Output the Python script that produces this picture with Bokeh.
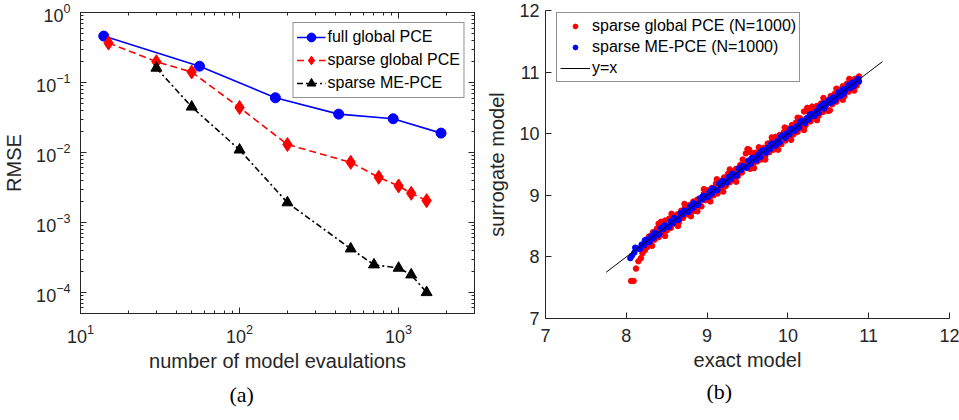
from bokeh.plotting import figure
from bokeh.models import (LogAxis, Legend, LegendItem, Title, Range1d, FixedTicker,
                          CustomJSTickFormatter)
from bokeh.embed import file_html
from bokeh.resources import INLINE

# ---------------- data: panel (a) ----------------
full_x = [14, 56, 168, 420, 924, 1848]
full_y = [0.46, 0.171, 0.0604, 0.0353, 0.0303, 0.0189]
sg_x = [15, 30, 50, 100, 200, 500, 750, 1000, 1200, 1500]
sg_y = [0.366, 0.198, 0.141, 0.0439, 0.0130, 0.00722, 0.00442, 0.00332, 0.00261, 0.00205]
me_x = [30, 50, 100, 200, 500, 700, 1000, 1200, 1500]
me_y = [0.161, 0.0448, 0.0109, 0.00192, 0.000421, 0.000249, 0.000223, 0.000179, 0.0001]

# ---------------- data: panel (b) ----------------
red_x = [8.06, 8.09, 8.12, 8.15, 8.18, 8.20, 8.23, 8.26, 8.28, 8.30, 8.33, 8.35, 8.38, 8.40,
         8.43, 8.45, 8.48, 8.50, 8.53, 8.55, 8.58, 8.60, 8.63, 8.65, 8.68, 8.70, 8.73, 8.75,
         8.78, 8.80, 8.83, 8.85, 8.88, 8.91, 8.93, 8.96, 8.98, 9.01, 9.03, 9.06, 9.08, 9.11,
         9.13, 9.16, 9.18, 9.21, 9.23, 9.26, 9.28, 9.31, 9.33, 9.36, 9.38, 9.41, 9.43, 9.46,
         9.48, 9.50, 9.52, 9.53, 9.55, 9.57, 9.60, 9.62, 9.65, 9.67, 9.70, 9.72, 9.75, 9.77,
         9.80, 9.82, 9.85, 9.87, 9.90, 9.92, 9.95, 9.97, 10.00, 10.02, 10.05, 10.07, 10.10,
         10.12, 10.15, 10.17, 10.20, 10.22, 10.24, 10.26, 10.28, 10.31, 10.33, 10.36, 10.38,
         10.41, 10.43, 10.46, 10.48, 10.50, 10.53, 10.55, 10.58, 10.60, 10.63, 10.65, 10.68,
         10.70, 10.73, 10.75, 10.78, 10.80, 10.83, 10.85, 10.88, 10.87,
         8.32, 8.40, 8.48, 8.56, 8.64, 8.72, 8.80, 8.88, 8.96, 9.04, 9.12, 9.20, 9.28, 9.36,
         9.44, 9.58, 9.64, 9.72, 9.80, 9.88, 9.96, 10.04, 10.12, 10.20, 10.30, 10.36, 10.44,
         10.52, 10.60, 10.68, 10.76, 10.82]
red_y = [7.61, 7.61, 7.81, 7.93, 7.98, 8.06, 8.11, 8.16, 8.33, 8.21, 8.40, 8.28, 8.46, 8.32,
         8.57, 8.39, 8.59, 8.43, 8.62, 8.47, 8.65, 8.54, 8.69, 8.56, 8.75, 8.63, 8.81, 8.69,
         8.84, 8.72, 8.90, 8.75, 8.93, 8.84, 8.82, 9.02, 8.92, 9.08, 8.96, 9.12, 9.00, 9.19,
         9.03, 9.23, 9.12, 9.29, 9.15, 9.35, 9.21, 9.39, 9.25, 9.43, 9.31, 9.49, 9.37, 9.53,
         9.68, 9.75, 9.74, 9.43, 9.69, 9.49, 9.69, 9.55, 9.73, 9.58, 9.77, 9.64, 9.84, 9.70,
         9.88, 9.74, 9.95, 9.80, 9.98, 9.83, 10.02, 9.89, 10.08, 9.95, 10.14, 9.99, 10.18,
         10.03, 10.25, 10.10, 10.36, 10.14, 10.42, 10.36, 10.20, 10.39, 10.26, 10.45, 10.29,
         10.49, 10.35, 10.53, 10.38, 10.37, 10.61, 10.48, 10.65, 10.52, 10.71, 10.58, 10.77,
         10.61, 10.81, 10.68, 10.85, 10.72, 10.89, 10.78, 10.93, 10.83,
         8.18, 8.54, 8.34, 8.70, 8.50, 8.86, 8.66, 8.74, 9.10, 8.90, 9.26, 9.06, 9.42, 9.22,
         9.58, 9.44, 9.78, 9.58, 9.94, 9.74, 10.10, 9.90, 10.26, 10.06, 10.44, 10.22, 10.58,
         10.38, 10.73, 10.55, 10.89, 10.70]
blue_x = [8.05, 8.07, 8.10, 8.13, 8.16, 8.19, 8.22, 8.25, 8.28, 8.31, 8.34, 8.37, 8.40, 8.43,
          8.46, 8.49, 8.52, 8.55, 8.58, 8.61, 8.64, 8.67, 8.70, 8.73, 8.76, 8.79, 8.82, 8.85,
          8.88, 8.91, 8.94, 8.97, 9.00, 9.03, 9.06, 9.09, 9.12, 9.15, 9.18, 9.21, 9.24, 9.27,
          9.30, 9.33, 9.36, 9.39, 9.42, 9.45, 9.48, 9.51, 9.54, 9.57, 9.60, 9.63, 9.66, 9.69,
          9.72, 9.75, 9.78, 9.81, 9.84, 9.87, 9.90, 9.93, 9.96, 9.99, 10.02, 10.05, 10.08,
          10.11, 10.14, 10.17, 10.20, 10.23, 10.26, 10.29, 10.32, 10.35, 10.38, 10.41, 10.44,
          10.47, 10.50, 10.53, 10.56, 10.59, 10.62, 10.65, 10.68, 10.71, 10.74, 10.77, 10.80,
          10.83, 10.86, 10.88,
          8.11, 8.17, 8.23, 8.29, 8.35, 8.41, 8.47, 8.53, 8.59, 8.65, 8.71, 8.77, 8.83, 8.89,
          8.95, 9.01, 9.07, 9.13, 9.19, 9.25, 9.31, 9.37, 9.43, 9.49, 9.55, 9.61, 9.67, 9.73,
          9.79, 9.85, 9.91, 9.97, 10.03, 10.09, 10.15, 10.21, 10.27, 10.33, 10.39, 10.45,
          10.51, 10.57, 10.63, 10.69, 10.75, 10.81, 10.87]
blue_y = [7.98, 8.02, 8.07, 8.14, 8.13, 8.20, 8.19, 8.28, 8.24, 8.34, 8.31, 8.38, 8.36, 8.47,
          8.45, 8.51, 8.49, 8.58, 8.55, 8.62, 8.60, 8.71, 8.69, 8.75, 8.73, 8.82, 8.79, 8.86,
          8.84, 8.95, 8.93, 8.99, 8.97, 9.06, 9.03, 9.10, 9.08, 9.19, 9.17, 9.23, 9.21, 9.30,
          9.27, 9.34, 9.32, 9.43, 9.41, 9.47, 9.45, 9.56, 9.51, 9.61, 9.57, 9.65, 9.62, 9.73,
          9.71, 9.77, 9.75, 9.84, 9.81, 9.88, 9.86, 9.97, 9.95, 10.01, 9.99, 10.08, 10.05,
          10.12, 10.10, 10.21, 10.19, 10.25, 10.23, 10.32, 10.29, 10.36, 10.34, 10.45, 10.49,
          10.46, 10.52, 10.50, 10.59, 10.56, 10.63, 10.61, 10.72, 10.70, 10.76, 10.74, 10.83,
          10.80, 10.87, 10.85,
          8.15, 8.13, 8.27, 8.25, 8.39, 8.37, 8.51, 8.49, 8.63, 8.61, 8.75, 8.73, 8.87, 8.85,
          8.99, 8.97, 9.11, 9.09, 9.23, 9.21, 9.35, 9.33, 9.47, 9.45, 9.60, 9.57, 9.71, 9.69,
          9.83, 9.81, 9.95, 9.93, 10.07, 10.05, 10.19, 10.17, 10.31, 10.29, 10.43, 10.41,
          10.55, 10.53, 10.67, 10.65, 10.79, 10.77, 10.89]
diag_x = [7.75, 11.17]
diag_y = [7.75, 11.17]

FONT = "Liberation Sans"
SERIF = "Liberation Serif"
AX = "#262626"


def style_axis(ax):
    ax.axis_line_color = AX
    ax.major_tick_line_color = AX
    ax.minor_tick_line_color = AX
    ax.major_tick_in = 6
    ax.major_tick_out = 0
    ax.minor_tick_in = 3
    ax.minor_tick_out = 0
    ax.major_label_text_font = FONT
    ax.major_label_text_font_size = "18px"
    ax.major_label_text_color = AX
    ax.axis_label_text_font = FONT
    ax.axis_label_text_font_size = "20px"
    ax.axis_label_text_font_style = "normal"
    ax.axis_label_text_color = AX


# ---------------- panel (a) ----------------
p1 = figure(x_axis_type="log", y_axis_type="log", width=480, height=420,
            x_range=Range1d(10, 3000), y_range=Range1d(5e-5, 1),
            min_border_left=73, min_border_right=6, min_border_top=12, min_border_bottom=107,
            output_backend="svg", toolbar_location=None)
p1.xgrid.visible = False
p1.ygrid.visible = False
p1.outline_line_color = AX
p1.background_fill_color = "white"
p1.border_fill_color = "white"

xt = FixedTicker(ticks=[10, 100, 1000],
                 minor_ticks=[m * 10 ** k for k in range(1, 4) for m in range(2, 10)])
yt = FixedTicker(ticks=[1e-4, 1e-3, 1e-2, 1e-1, 1],
                 minor_ticks=[m * 10.0 ** k for k in range(-5, 0) for m in range(2, 10)])
p1.xaxis.ticker = xt
p1.yaxis.ticker = yt
style_axis(p1.xaxis[0])
style_axis(p1.yaxis[0])
p1.xaxis.axis_label = "number of model evaulations"
p1.yaxis.axis_label = "RMSE"
p1.xaxis.major_label_standoff = 10
p1.yaxis.major_label_standoff = 10
p1.xaxis.axis_label_standoff = 4
p1.yaxis.axis_label_standoff = 8

blank = CustomJSTickFormatter(code="return ''")
top_ax = LogAxis(ticker=xt, formatter=blank, major_label_standoff=0)
right_ax = LogAxis(ticker=yt, formatter=blank, major_label_standoff=0)
style_axis(top_ax)
style_axis(right_ax)
top_ax.major_label_text_font_size = "1px"
right_ax.major_label_text_font_size = "1px"
p1.add_layout(top_ax, "above")
p1.add_layout(right_ax, "right")

l1 = p1.line(full_x, full_y, line_color="blue", line_width=1.6)
s1 = p1.scatter(full_x, full_y, marker="circle", size=10, fill_color="blue", line_color="blue")
l2 = p1.line(sg_x, sg_y, line_color="red", line_width=1.6, line_dash="7 4")
s2 = p1.scatter(sg_x, sg_y, marker="diamond", size=14, fill_color="red", line_color="red")
l3 = p1.line(me_x, me_y, line_color="black", line_width=1.6, line_dash="6 3 2 3")
s3 = p1.scatter(me_x, me_y, marker="triangle", size=11, fill_color="black", line_color="black")

leg1 = Legend(items=[LegendItem(label="full global PCE", renderers=[l1, s1]),
                     LegendItem(label="sparse global PCE", renderers=[l2, s2]),
                     LegendItem(label="sparse ME-PCE", renderers=[l3, s3])],
              location="top_right", margin=10, padding=3, spacing=1,
              glyph_width=29, glyph_height=22, label_height=20, label_standoff=2,
              label_text_font=FONT, label_text_font_size="16px", label_text_color="black",
              border_line_color=AX, border_line_width=1, background_fill_color="white",
              background_fill_alpha=1)
p1.add_layout(leg1)
p1.add_layout(Title(text="(a)", align="left", offset=149, text_font=SERIF,
                    text_font_size="22px", text_font_style="normal", text_color="black"),
              "below")

# ---------------- panel (b) ----------------
p2 = figure(width=479, height=420,
            x_range=Range1d(7, 12), y_range=Range1d(7, 12),
            min_border_left=65, min_border_right=10, min_border_top=10, min_border_bottom=102,
            output_backend="svg", toolbar_location=None)
p2.xgrid.visible = False
p2.ygrid.visible = False
p2.outline_line_color = None
lin = FixedTicker(ticks=[7, 8, 9, 10, 11, 12], minor_ticks=[])
p2.xaxis.ticker = lin
p2.yaxis.ticker = lin
style_axis(p2.xaxis[0])
style_axis(p2.yaxis[0])
p2.xaxis.axis_label = "exact model"
p2.yaxis.axis_label = "surrogate model"
p2.xaxis.major_label_standoff = 10
p2.yaxis.major_label_standoff = 6
p2.xaxis.axis_label_standoff = 4
p2.yaxis.axis_label_standoff = 8

r_red = p2.scatter(red_x, red_y, marker="circle", size=5.5, fill_color="red", line_color="red")
r_blue = p2.scatter(blue_x, blue_y, marker="circle", size=5.5, fill_color="blue", line_color="blue")
r_diag = p2.line(diag_x, diag_y, line_color="black", line_width=1)

leg2 = Legend(items=[LegendItem(label="sparse global PCE (N=1000)", renderers=[r_red]),
                     LegendItem(label="sparse ME-PCE (N=1000)", renderers=[r_blue]),
                     LegendItem(label="y=x", renderers=[r_diag])],
              location=(11, 236), padding=3, spacing=1,
              glyph_width=30, glyph_height=12, label_height=20, label_standoff=2,
              label_text_font=FONT, label_text_font_size="16px", label_text_color="black",
              border_line_color=AX, border_line_width=1, background_fill_color="white",
              background_fill_alpha=1)
p2.add_layout(leg2)
p2.add_layout(Title(text="(b)", align="left", offset=161, standoff=6, text_font=SERIF,
                    text_font_size="22px", text_font_style="normal", text_color="black"),
              "below")

# The two panels are independent roots placed side by side (so their frames
# are not forced to share the same top/bottom borders).
PAGE = ("{% block postamble %}<style>html, body {margin: 0; padding: 0;} "
        "body {display: flex; flex-direction: row; align-items: flex-start;}</style>"
        "{% endblock %}")
p = [p1, p2]
open("out.html", "w").write(file_html(p, INLINE, template=PAGE))
